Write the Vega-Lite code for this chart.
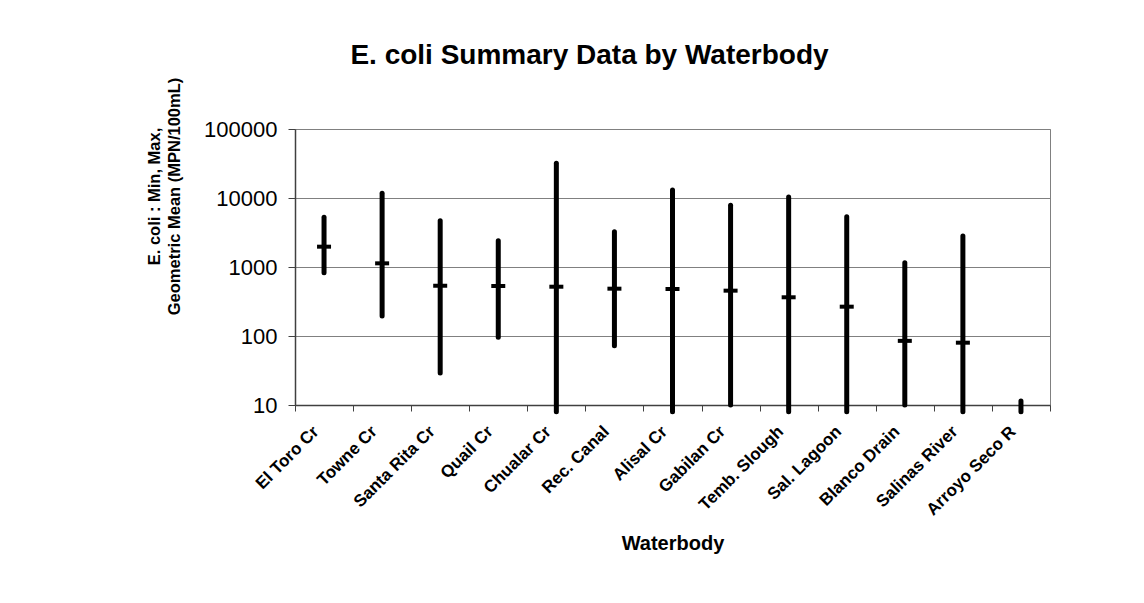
{
  "$schema": "https://vega.github.io/schema/vega-lite/v6.json",
  "autosize": {"type": "none"},
  "width": 755,
  "height": 276,
  "padding": {"left": 295, "top": 129, "right": 94, "bottom": 198},
  "background": "white",
  "config": {
    "font": "Liberation Sans",
    "view": {"stroke": "#808080", "strokeWidth": 1}
  },
  "title": {
    "text": "E. coli Summary Data by Waterbody",
    "font": "Liberation Sans",
    "fontSize": 28,
    "fontWeight": "bold",
    "color": "black",
    "anchor": "middle",
    "frame": "group",
    "dx": -83,
    "offset": 7
  },
  "data": {
    "values": [
      {"waterbody": "El Toro Cr", "min": 826, "max": 5250, "mean": 1970},
      {"waterbody": "Towne Cr", "min": 195, "max": 11700, "mean": 1130},
      {"waterbody": "Santa Rita Cr", "min": 29, "max": 4690, "mean": 535},
      {"waterbody": "Quail Cr", "min": 96, "max": 2400, "mean": 530},
      {"waterbody": "Chualar Cr", "min": 8, "max": 31800, "mean": 518},
      {"waterbody": "Rec. Canal", "min": 72, "max": 3250, "mean": 485},
      {"waterbody": "Alisal Cr", "min": 8, "max": 13060, "mean": 480},
      {"waterbody": "Gabilan Cr", "min": 10, "max": 7830, "mean": 454},
      {"waterbody": "Temb. Slough", "min": 8, "max": 10330, "mean": 364},
      {"waterbody": "Sal. Lagoon", "min": 8, "max": 5360, "mean": 266},
      {"waterbody": "Blanco Drain", "min": 10, "max": 1155, "mean": 85},
      {"waterbody": "Salinas River", "min": 8, "max": 2810, "mean": 80},
      {"waterbody": "Arroyo Seco R", "min": 8, "max": 11.4, "mean": null}
    ]
  },
  "encoding": {
    "x": {
      "field": "waterbody",
      "type": "nominal",
      "sort": null,
      "scale": {"paddingInner": 0, "paddingOuter": 0},
      "axis": {
        "title": "Waterbody",
        "titleFont": "Liberation Sans",
        "titleFontSize": 20,
        "titleFontWeight": "bold",
        "titleColor": "black",
        "titleY": 138,
        "titleBaseline": "middle",
        "labelAngle": -45,
        "labelFont": "Liberation Sans",
        "labelFontSize": 17,
        "labelFontWeight": "bold",
        "labelColor": "black",
        "labelPadding": 12,
        "labelOffset": -14,
        "tickBand": "extent",
        "tickSize": 6,
        "tickColor": "#404040",
        "domainColor": "#404040",
        "domainWidth": 1.5,
        "grid": false
      }
    }
  },
  "layer": [
    {
      "mark": {"type": "rule", "strokeWidth": 5, "strokeCap": "round", "color": "black", "clip": false},
      "encoding": {
        "y": {
          "field": "min",
          "type": "quantitative",
          "scale": {"type": "log", "domain": [10, 100000], "nice": false},
          "axis": {
            "values": [10, 100, 1000, 10000, 100000],
            "format": "d",
            "title": ["E. coli :  Min, Max,", "Geometric Mean (MPN/100mL)"],
            "titleFont": "Liberation Sans",
            "titleFontSize": 16.5,
            "titleFontWeight": "bold",
            "titleColor": "black",
            "titleAngle": -90,
            "titleX": -141,
            "titleY": 67,
            "titleAlign": "center",
            "titleBaseline": "middle",
            "titleLineHeight": 20,
            "labelFont": "Liberation Sans",
            "labelFontSize": 22,
            "labelColor": "black",
            "labelPadding": 11,
            "tickSize": 7,
            "tickColor": "#404040",
            "domainColor": "#404040",
            "domainWidth": 1.5,
            "grid": true,
            "gridColor": "#808080",
            "gridWidth": 1.2
          }
        },
        "y2": {"field": "max"}
      }
    },
    {
      "mark": {"type": "tick", "orient": "horizontal", "thickness": 4, "size": 14, "color": "black", "opacity": 1},
      "encoding": {
        "y": {"field": "mean", "type": "quantitative"}
      }
    }
  ]
}
